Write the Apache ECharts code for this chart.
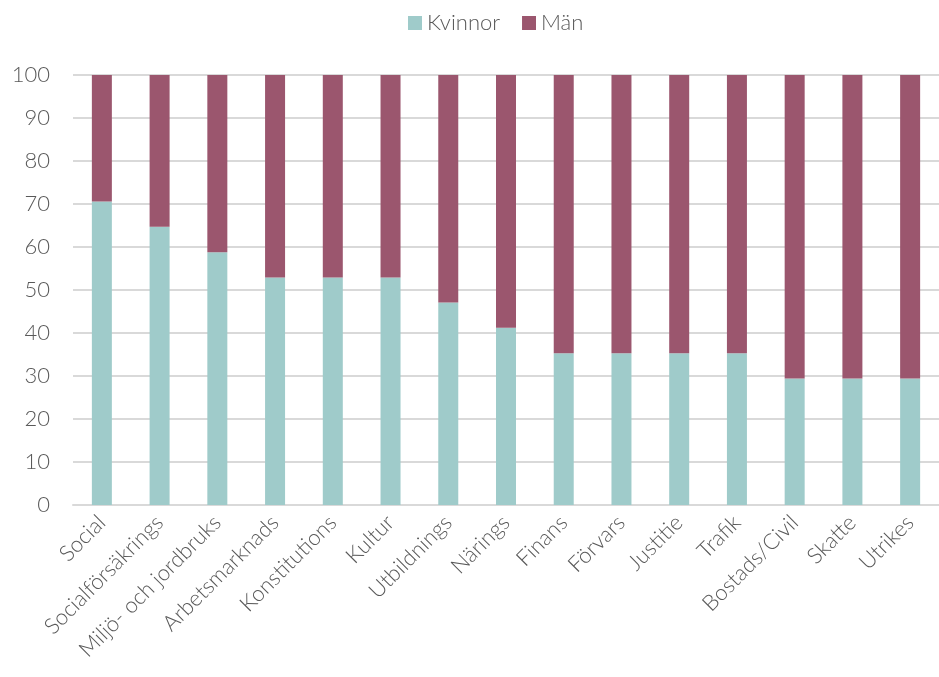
<!DOCTYPE html>
<html><head><meta charset="utf-8">
<script src="https://cdn.jsdelivr.net/npm/echarts@6/dist/echarts.min.js"></script>
<style>html,body{margin:0;padding:0;background:#fff}#c{width:939px;height:677px}</style>
</head><body><div id="c"></div>
<script>
const categories = ["Social","Socialförsäkrings","Miljö- och jordbruks","Arbetsmarknads","Konstitutions","Kultur","Utbildnings","Närings","Finans","Förvars","Justitie","Trafik","Bostads/Civil","Skatte","Utrikes"];
const kvinnor = [70.6,64.7,58.8,52.9,52.9,52.9,47.1,41.2,35.3,35.3,35.3,35.3,29.4,29.4,29.4];
const man = [29.4,35.3,41.2,47.1,47.1,47.1,52.9,58.8,64.7,64.7,64.7,64.7,70.6,70.6,70.6];
const yTicks = [0,10,20,30,40,50,60,70,80,90,100];
const chart = echarts.init(document.getElementById('c'));
const font = 'Lato';
chart.setOption({
  animation:false,
  legend:{top:7,left:403,itemWidth:14,itemHeight:14,itemGap:22,icon:'rect',
    textStyle:{fontFamily:font,fontWeight:300,fontSize:22,color:'#595959'},
    data:['Kvinnor','Män']},
  grid:{left:73,right:0,top:75,bottom:172},
  xAxis:{type:'category',data:categories,
    axisLine:{lineStyle:{color:'#d9d9d9',width:2}},axisTick:{show:false},
    axisLabel:{rotate:45,interval:0,margin:14,fontFamily:font,fontWeight:300,fontSize:22,color:'#595959'}},
  yAxis:{type:'value',min:0,max:100,interval:10,
    axisLine:{show:false},axisTick:{show:false},
    splitLine:{lineStyle:{color:'#d9d9d9',width:2}},
    axisLabel:{margin:23,fontFamily:font,fontWeight:300,fontSize:22,color:'#595959',
      formatter:v=>yTicks.includes(v)?String(v):''}},
  series:[
    {name:'Kvinnor',type:'bar',stack:'s',data:kvinnor,barWidth:20,itemStyle:{color:'#9FCBCA'}},
    {name:'Män',type:'bar',stack:'s',data:man,barWidth:20,itemStyle:{color:'#9B566E'}}
  ]
});
</script></body></html>
